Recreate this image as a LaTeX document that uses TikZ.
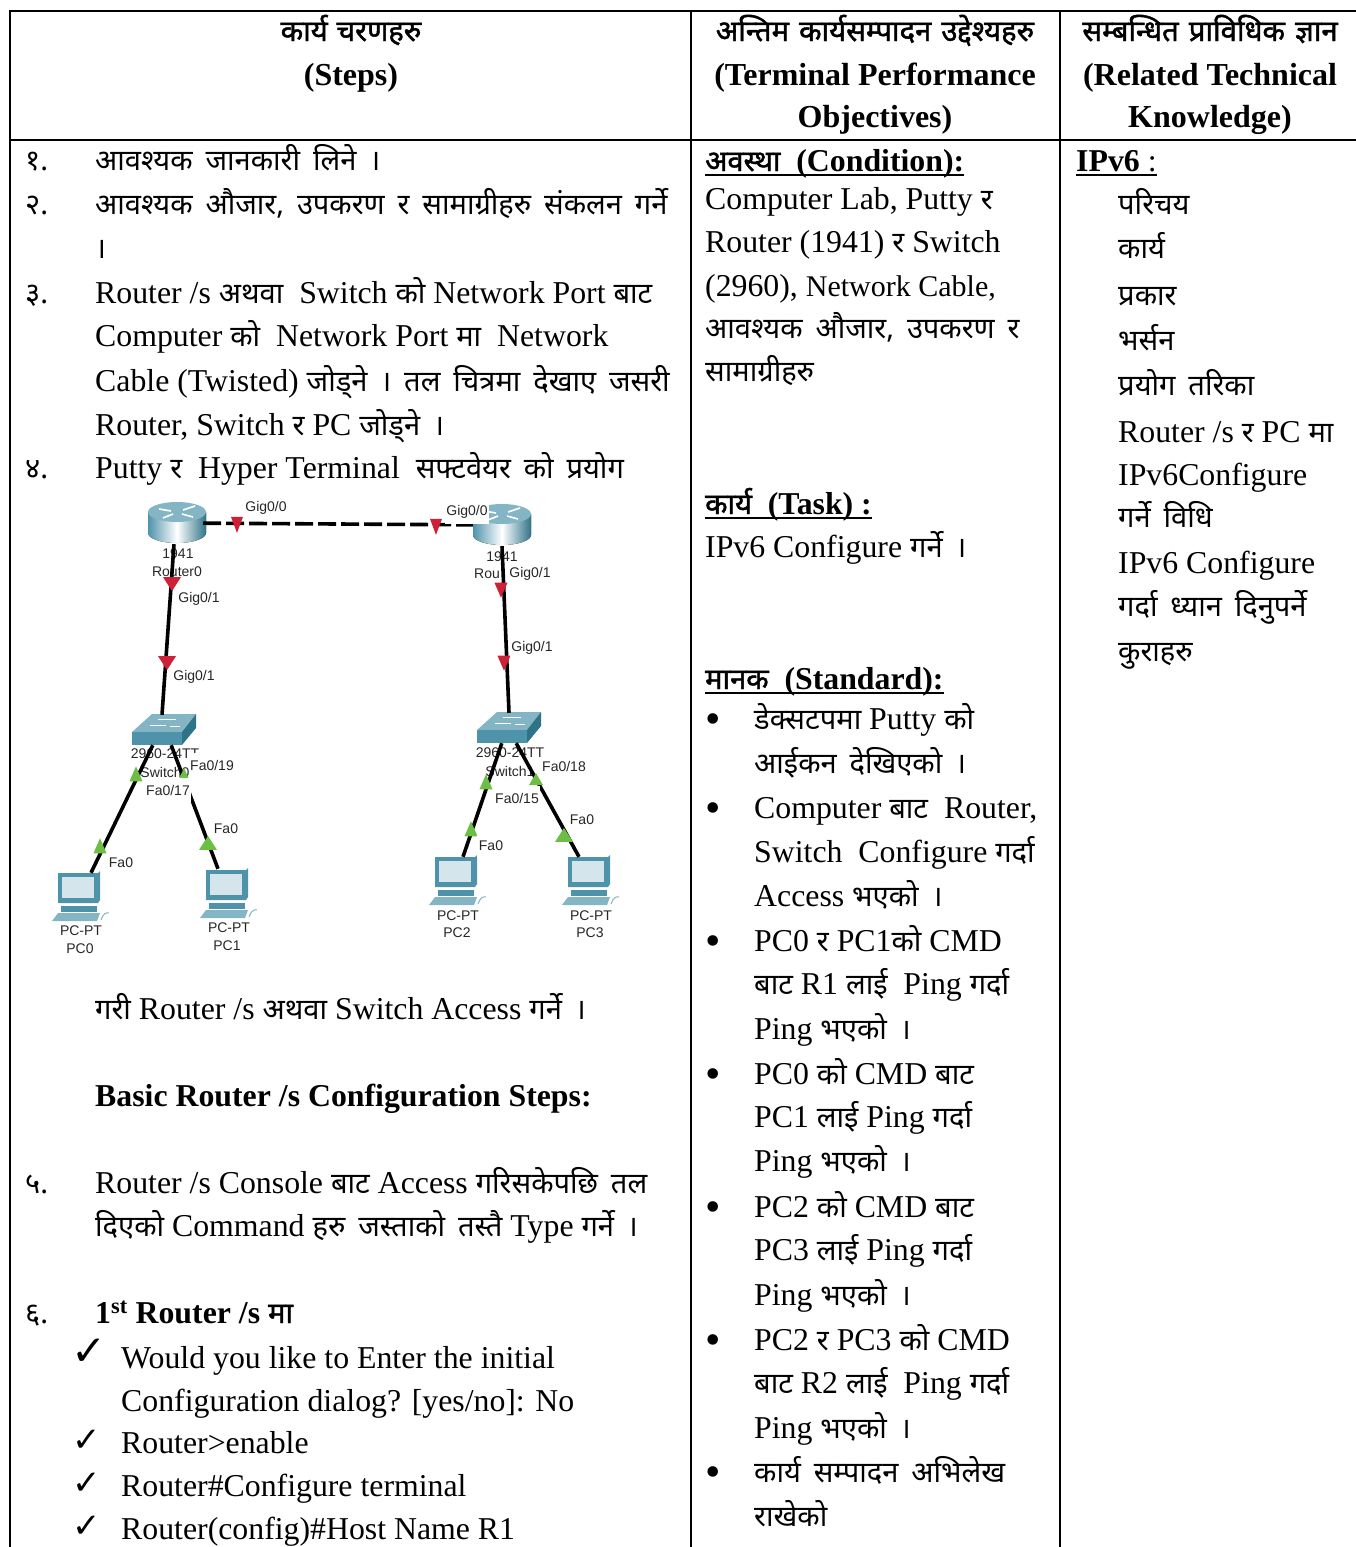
\documentclass[tikz,border=0pt]{standalone}
\usepackage{fontspec}
\usepackage{xcolor}
\usetikzlibrary{shapes.geometric}
\setmainfont{Liberation Serif}
\newfontfamily\deva[Script=Devanagari,Scale=0.915,WordSpace=1.7]{Noto Sans}
\newfontfamily\devab[Script=Devanagari,Scale=0.915,WordSpace=1.7,FakeBold=1.5]{Noto Sans}
\newfontfamily\devah[Script=Devanagari,Scale=0.915,WordSpace=1.15,FakeBold=1.5]{Noto Sans}
\newfontfamily\netfont{Liberation Sans}
\newfontfamily\symfont{DejaVu Sans}
\newcommand{\D}[1]{{\deva #1}}
\newcommand{\DB}[1]{{\devab #1}}
\newcommand{\DHd}[1]{{\devah #1}}
\definecolor{portred}{HTML}{CE2036}
\definecolor{portgreen}{HTML}{6DBE45}
\definecolor{ciscoteal}{HTML}{4F93AB}
\definecolor{ciscodark}{HTML}{2F7388}
\definecolor{ciscolight}{HTML}{83B5C5}
\definecolor{screenblue}{HTML}{D5E5EC}
\tikzset{
  txt/.style={anchor=base west,inner sep=0pt,font=\fontsize{31.8}{44}\selectfont},
  boldtxt/.style={txt,font=\fontsize{31.8}{44}\selectfont\bfseries},
  hdr/.style={anchor=base,inner sep=0pt,font=\fontsize{32}{44}\selectfont\bfseries},
  tick/.style={anchor=base west,inner sep=0pt,font=\fontsize{34}{34}\symfont},
  bul/.style={anchor=base west,inner sep=0pt,yshift=-4pt,font=\fontsize{44}{44}\selectfont},
  rulebar/.style={line width=2.6pt},
  netlabel/.style={inner sep=0pt,font=\fontsize{14}{16}\netfont,text=black!85},
  iflabel/.style={netlabel,fill=white,inner xsep=1.5pt,minimum height=24pt},
  device/.style={inner sep=0pt,minimum width=58pt,minimum height=42pt},
  sw/.style={inner sep=0pt,minimum width=18pt,minimum height=30pt},
  pcnode/.style={inner sep=0pt,minimum width=40pt,minimum height=30pt},
  cable/.style={line width=3.6pt,black},
  porttip/.style={isosceles triangle,isosceles triangle stretches,inner sep=0pt,minimum height=15pt,minimum width=13pt},
  redport/.style={porttip,fill=portred,shape border rotate=-90},
  greenport/.style={porttip,fill=portgreen,shape border rotate=90},
  routerpic/.pic={
    \fill[left color=ciscoteal,right color=ciscodark,middle color=white] (-29,-11) -- (-29,10) arc[start angle=180,end angle=0,x radius=29,y radius=10] -- (29,-11) -- cycle;
    \fill[ciscolight] (0,-11) ellipse[x radius=29,y radius=10];
    \draw[white,line width=1.6pt] (-18,-14) -- (-6,-12) (18,-17) -- (6,-13) (-14,-5) -- (-4,-9) (16,-6) -- (5,-9);
  },
  switchpic/.pic={
    \fill[ciscolight] (-32,2) -- (-12,-16) -- (32,-16) -- (18,2) -- cycle;
    \fill[ciscoteal] (-32,2) rectangle (18,15);
    \fill[ciscodark] (18,2) -- (32,-16) -- (32,-2) -- (18,15) -- cycle;
    \draw[white,line width=.6pt] (-14,-5) -- (2,-5) (-6,-11) -- (12,-11) (6,-4) -- (16,-4);
  },
  pcpic/.pic={
    \fill[ciscoteal] (-21,-15) -- (19,-15) -- (21,-17) -- (21,12) -- (19,15) -- (-21,15) -- cycle;
    \fill[screenblue] (-17,-11) rectangle (15,10);
    \fill[ciscoteal] (-18,18) rectangle (18,24);
    \fill[ciscolight] (-21,25) -- (21,25) -- (18,33) -- (-27,33) -- cycle;
    \draw[ciscolight,line width=1pt] (22,32) .. controls (24,26) and (27,24) .. (30,25);
  }
}
\begin{document}
\begin{tikzpicture}[x=1pt,y=-1pt]
  \useasboundingbox (0,0) rectangle (1356,1547);
  % table rules
  \draw[line width=2pt] (1356,11) -- (10,11) -- (10,1547);
  \draw[line width=2pt] (10,140) -- (1356,140);
  \draw[line width=2pt] (691,11) -- (691,1547);
  \draw[line width=2pt] (1060,11) -- (1060,1547);
  % headers
  \node[hdr] (h1a) at (351,41) {\DHd{कार्य चरणहरु}};
  \node[hdr] (h1b) at (351,85) {(Steps)};
  \node[hdr] (h2a) at (875,41) {\DHd{अन्तिम कार्यसम्पादन उद्देश्यहरु}};
  \node[hdr] (h2b) at (875,85) {(Terminal Performance};
  \node[hdr] (h2c) at (875,127) {Objectives)};
  \node[hdr] (h3a) at (1210,41) {\DHd{सम्बन्धित प्राविधिक ज्ञान}};
  \node[hdr] (h3b) at (1210,85) {(Related Technical};
  \node[hdr] (h3c) at (1210,127) {Knowledge)};
  % steps column
  \node[txt] (n1) at (25,170) {\D{१.}};
  \node[txt] (s1) at (95,170) {\D{आवश्यक जानकारी लिने ।}};
  \node[txt] (n2) at (25,214) {\D{२.}};
  \node[txt] (s2) at (95,214) {\D{आवश्यक औजार, उपकरण र सामाग्रीहरु संकलन गर्ने}};
  \node[txt] (s2b) at (95,258) {\D{।}};
  \node[txt] (n3) at (25,303) {\D{३.}};
  \node[txt] (s3) at (95,303) {Router /s \D{अथवा}~ Switch \D{को} Network Port \D{बाट}};
  \node[txt] (s3b) at (95,346) {Computer \D{को}~ Network Port \D{मा}~ Network};
  \node[txt] (s3c) at (95,391) {Cable (Twisted) \D{जोड्ने । तल चित्रमा देखाए जसरी}};
  \node[txt] (s3d) at (95,435) {Router, Switch \D{र} PC \D{जोड्ने ।}};
  \node[txt] (n4) at (25,478) {\D{४.}};
  \node[txt] (s4) at (95,478) {Putty \D{र}~ Hyper Terminal~ \D{सफ्टवेयर को प्रयोग}};
  \node[txt] (s4b) at (95,1019) {\D{गरी} Router /s \D{अथवा} Switch Access \D{गर्ने ।}};
  \node[boldtxt] (basic) at (95,1106) {Basic Router /s Configuration Steps:};
  \node[txt] (n5) at (25,1193) {\D{५.}};
  \node[txt] (s5) at (95,1193) {Router /s Console \D{बाट} Access \D{गरिसकेपछि तल}};
  \node[txt] (s5b) at (95,1236) {\D{दिएको} Command \D{हरु जस्ताको तस्तै} Type \D{गर्ने ।}};
  \node[txt] (n6) at (25,1323) {\D{६.}};
  \node[boldtxt] (s6) at (95,1323) {1\textsuperscript{st} Router /s \DB{मा}};
  \node[tick,font=\fontsize{42}{42}\symfont] (c1) at (71,1365) {✓};
  \node[txt] (k1) at (121,1368) {Would you like to Enter the initial};
  \node[txt] (k1b) at (121,1411) {Configuration dialog? [yes/no]: No};
  \node[tick] (c2) at (72,1451) {✓};
  \node[txt] (k2) at (121,1453) {Router>enable};
  \node[tick] (c3) at (72,1494) {✓};
  \node[txt] (k3) at (121,1496) {Router\#Configure terminal};
  \node[tick] (c4) at (72,1537) {✓};
  \node[txt] (k4) at (121,1539) {Router(config)\#Host Name R1};
  % objectives column
  \node[boldtxt] (cond) at (705,171) {\DB{अवस्था}~ (Condition):};
  \draw[rulebar] ([yshift=-4pt]cond.base west) -- ([yshift=-4pt]cond.base east);
  \node[txt] (o1) at (705,209) {Computer Lab, Putty \D{र}};
  \node[txt] (o2) at (705,252) {Router (1941) \D{र} Switch};
  \node[txt] (o3) at (705,296) {(2960), {\fontsize{30}{44}\selectfont Network Cable,}};
  \node[txt] (o4) at (705,338) {\D{आवश्यक औजार, उपकरण र}};
  \node[txt] (o5) at (705,381) {\D{सामाग्रीहरु}};
  \node[boldtxt] (task) at (705,514) {\DB{कार्य}~ (Task) :};
  \draw[rulebar] ([yshift=-4pt]task.base west) -- ([yshift=-4pt]task.base east);
  \node[txt] (t1) at (705,557) {IPv6 Configure \D{गर्ने ।}};
  \node[boldtxt] (std) at (705,689) {\DB{मानक}~ (Standard):};
  \draw[rulebar] ([yshift=-4pt]std.base west) -- ([yshift=-4pt]std.base east);
  \foreach \y in {729,818,951,1084,1217,1350,1482}
    \node[bul] (b\y) at (705,\y) {•};
  \node[txt] (m1) at (754,729) {\D{डेक्सटपमा} Putty \D{को}};
  \node[txt] (m1b) at (754,773) {\D{आईकन देखिएको ।}};
  \node[txt] (m2) at (754,818) {Computer \D{बाट}~ Router,};
  \node[txt] (m2b) at (754,862) {Switch~ Configure \D{गर्दा}};
  \node[txt] (m2c) at (754,906) {Access \D{भएको ।}};
  \node[txt] (m3) at (754,951) {PC0 \D{र} PC1\D{को} CMD};
  \node[txt] (m3b) at (754,994) {\D{बाट} R1 \D{लाई}~ Ping \D{गर्दा}};
  \node[txt] (m3c) at (754,1039) {Ping \D{भएको ।}};
  \node[txt] (m4) at (754,1084) {PC0 \D{को} CMD \D{बाट}};
  \node[txt] (m4b) at (754,1127) {PC1 \D{लाई} Ping \D{गर्दा}};
  \node[txt] (m4c) at (754,1171) {Ping \D{भएको ।}};
  \node[txt] (m5) at (754,1217) {PC2 \D{को} CMD \D{बाट}};
  \node[txt] (m5b) at (754,1260) {PC3 \D{लाई} Ping \D{गर्दा}};
  \node[txt] (m5c) at (754,1305) {Ping \D{भएको ।}};
  \node[txt] (m6) at (754,1350) {PC2 \D{र} PC3 \D{को} CMD};
  \node[txt] (m6b) at (754,1393) {\D{बाट} R2 \D{लाई}~ Ping \D{गर्दा}};
  \node[txt] (m6c) at (754,1438) {Ping \D{भएको ।}};
  \node[txt] (m7) at (754,1482) {\D{कार्य सम्पादन अभिलेख}};
  \node[txt] (m7b) at (754,1526) {\D{राखेको}};
  % knowledge column
  \node[boldtxt] (ipv) at (1076,171) {IPv6 {\mdseries:}};
  \draw[rulebar] ([yshift=-4pt]ipv.base west) -- ([yshift=-4pt]ipv.base east);
  \node[txt] (r1) at (1118,214) {\D{परिचय}};
  \node[txt] (r2) at (1118,258) {\D{कार्य}};
  \node[txt] (r3) at (1118,305) {\D{प्रकार}};
  \node[txt] (r4) at (1118,350) {\D{भर्सन}};
  \node[txt] (r5) at (1118,395) {\D{प्रयोग तरिका}};
  \node[txt] (r6) at (1118,442) {Router /s \D{र} PC \D{मा}};
  \node[txt] (r7) at (1118,485) {IPv6Configure};
  \node[txt] (r8) at (1118,527) {\D{गर्ने विधि}};
  \node[txt] (r9) at (1118,573) {IPv6 Configure};
  \node[txt] (r10) at (1118,616) {\D{गर्दा ध्यान दिनुपर्ने}};
  \node[txt] (r11) at (1118,661) {\D{कुराहरु}};
  % network figure
  \pic at (177,523) {routerpic};
  \pic at (502,525) {routerpic};
  \pic at (164,730) {switchpic};
  \pic at (509,728) {switchpic};
  \pic at (79,888) {pcpic};
  \pic at (227,885) {pcpic};
  \pic at (456,872) {pcpic};
  \pic at (589,872) {pcpic};
  \node[device] (r0) at (174,523) {};
  \node[device] (r1) at (502,525) {};
  \node[sw] (sw0) at (162,730) {};
  \node[sw,minimum width=14pt] (sw1) at (509,728) {};
  \node[pcnode] (pc0) at (91,888) {};
  \node[pcnode] (pc1) at (218,884) {};
  \node[pcnode] (pc2) at (463,872) {};
  \node[pcnode] (pc3) at (579,872) {};
  \node[netlabel] (r0a) at (178,554) {1941};
  \node[netlabel] (r0b) at (177,572) {Router0};
  \node[netlabel] (r1a) at (502,557) {1941};
  \node[netlabel] (r1b) at (487,574) {Rou};
  \node[netlabel] (sw0a) at (165,754) {2960-24TT};
  \node[netlabel] (sw0b) at (165,772) {Switch0};
  \node[netlabel] (sw1a) at (510,753) {2960-24TT};
  \node[netlabel] (sw1b) at (510,771) {Switch1};
  \node[netlabel] (pc0a) at (81,931) {PC-PT};
  \node[netlabel] (pc0b) at (80,949) {PC0};
  \node[netlabel] (pc1a) at (229,928) {PC-PT};
  \node[netlabel] (pc1b) at (227,946) {PC1};
  \node[netlabel] (pc2a) at (458,916) {PC-PT};
  \node[netlabel] (pc2b) at (457,933) {PC2};
  \node[netlabel] (pc3a) at (591,916) {PC-PT};
  \node[netlabel] (pc3b) at (590,933) {PC3};
  \draw[cable,dash pattern=on 18pt off 5pt] (r0) -- (r1);
  \draw[cable] (r0.south) -- (sw0.north);
  \draw[cable] (r1.south) -- (sw1.north);
  \draw[cable] (sw0.south west) -- (pc0.north);
  \draw[cable] (sw0.south east) -- (pc1.north);
  \draw[cable] (sw1.south west) -- (pc2.north);
  \draw[cable] (sw1.south east) -- (pc3.north);
  \node[redport,shape border rotate=-80,minimum height=16pt,minimum width=12pt] (p1) at (237,521) {};
  \node[redport,shape border rotate=-80,minimum height=16pt,minimum width=12pt] (p2) at (436,523) {};
  \node[redport,minimum height=14pt,minimum width=18pt] (p3) at (172,582) {};
  \node[redport,minimum height=14pt,minimum width=18pt] (p4) at (167,661) {};
  \node[redport,shape border rotate=-75] (p5) at (501,587) {};
  \node[redport,shape border rotate=-75] (p6) at (504,660) {};
  \node[greenport,shape border rotate=70] (p7) at (136,777) {};
  \node[greenport,shape border rotate=65] (p8) at (100,849) {};
  \node[greenport,minimum width=18pt,minimum height=14pt] (p9) at (208,845) {};
  \node[greenport,shape border rotate=110,minimum height=10pt,minimum width=9pt] (p14) at (184,775) {};
  \node[greenport,shape border rotate=70] (p10) at (486,785) {};
  \node[greenport,shape border rotate=70] (p11) at (471,832) {};
  \node[greenport,minimum width=14pt,minimum height=12pt] (p12) at (536,781) {};
  \node[greenport,minimum width=18pt,minimum height=14pt] (p13) at (564,837) {};
  \node[iflabel] (i1) at (266,508) {Gig0/0};
  \node[iflabel] (i2) at (467,512) {Gig0/0};
  \node[iflabel] (i3) at (199,599) {Gig0/1};
  \node[iflabel] (i4) at (194,677) {Gig0/1};
  \node[iflabel] (i5) at (530,574) {Gig0/1};
  \node[iflabel] (i6) at (532,648) {Gig0/1};
  \node[iflabel] (i7) at (212,765) {Fa0/19};
  \node[iflabel] (i8) at (168,790) {Fa0/17};
  \node[iflabel] (i9) at (226,829) {Fa0};
  \node[iflabel] (i10) at (121,863) {Fa0};
  \node[iflabel] (i11) at (564,766) {Fa0/18};
  \node[iflabel] (i12) at (517,798) {Fa0/15};
  \node[iflabel] (i13) at (582,820) {Fa0};
  \node[iflabel] (i14) at (491,846) {Fa0};
\end{tikzpicture}
\end{document}
